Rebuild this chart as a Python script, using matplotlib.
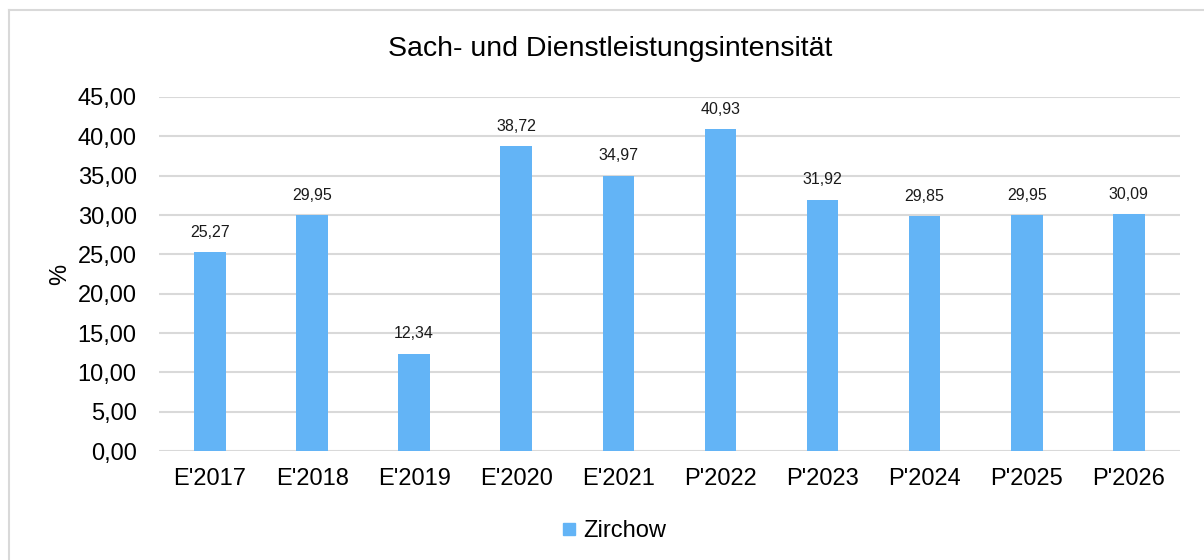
import matplotlib.pyplot as plt
from matplotlib.lines import Line2D

plt.rcParams['font.family'] = ['Liberation Sans', 'DejaVu Sans']

# Chart data
categories = ["E'2017", "E'2018", "E'2019", "E'2020", "E'2021",
              "P'2022", "P'2023", "P'2024", "P'2025", "P'2026"]
values = [25.27, 29.95, 12.34, 38.72, 34.97, 40.93, 31.92, 29.85, 29.95, 30.09]
series_name = 'Zirchow'
y_ticks = [0, 5, 10, 15, 20, 25, 30, 35, 40, 45]

BAR_COLOR = '#63B4F6'
GRID_COLOR = '#D9D9D9'


def de_num(v):
    # German decimal comma
    return f"{v:.2f}".replace('.', ',')


fig = plt.figure(figsize=(12.04, 5.6), dpi=100)
ax = fig.add_axes([0.132, 0.1946, 0.848, 0.6322])

x = range(len(categories))
bars = ax.bar(x, values, width=0.31, color=BAR_COLOR, zorder=3)

for rect, v in zip(bars, values):
    ax.annotate(de_num(v), (rect.get_x() + rect.get_width() / 2, v),
                xytext=(0, 9), textcoords='offset points',
                ha='center', va='bottom', fontsize=11.5, color='#1a1a1a')

ax.set_xlim(-0.5, len(categories) - 0.5)
ax.set_ylim(0, 45)
ax.set_yticks(y_ticks)
ax.set_yticklabels([de_num(t) for t in y_ticks], fontsize=17)
ax.set_xticks(list(x))
ax.set_xticklabels(categories, fontsize=17)
ax.tick_params(length=0, pad=12)
ax.tick_params(axis='y', pad=16)
ax.grid(axis='y', color=GRID_COLOR, linewidth=1.5, zorder=0)
for s in ax.spines.values():
    s.set_visible(False)

ax.set_ylabel('%', fontsize=17, labelpad=5)

fig.text(0.507, 0.912, 'Sach- und Dienstleistungsintensität',
         ha='center', va='center', fontsize=20.5)

handle = Line2D([], [], marker='s', linestyle='none', markersize=9,
                markerfacecolor=BAR_COLOR, markeredgecolor=BAR_COLOR)
fig.legend([handle], [series_name], loc='center', bbox_to_anchor=(0.508, 0.052),
           frameon=False, fontsize=17, handletextpad=0.1, handlelength=1.0)

# outer frame (top and left edge visible in the reference)
fig.add_artist(Line2D([0.0075, 1.0], [0.982, 0.982], color=GRID_COLOR, linewidth=1.5,
                      transform=fig.transFigure))
fig.add_artist(Line2D([0.0075, 0.0075], [0.0, 0.982], color=GRID_COLOR, linewidth=1.5,
                      transform=fig.transFigure))

fig.savefig('out.png', dpi=100)
